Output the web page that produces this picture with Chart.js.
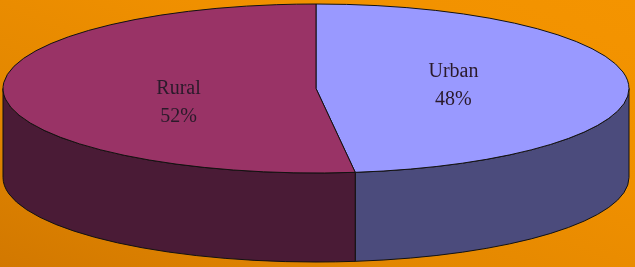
<!DOCTYPE html>
<html>
<head>
<meta charset="utf-8">
<script src="https://cdn.jsdelivr.net/npm/chart.js@4.4.1/dist/chart.umd.min.js"></script>
<style>
  html, body { margin: 0; padding: 0; }
  #wrap {
    width: 635px; height: 267px; position: relative;
    background: linear-gradient(to top right, #d27800 0%, #e48800 35%, #f09000 65%, #f49400 100%);
  }
</style>
</head>
<body>
<div id="wrap"><canvas id="graph"></canvas></div>
<script>
const labels = ['Urban', 'Rural'];
const values = [48, 52];
const topColors = ['#9999ff', '#993366'];
const sideColors = ['#4b4b7c', '#4a1b36'];

// 3D pie: draws the arcs chart.js laid out as an ellipse with a wall
const pie3d = {
    id: 'pie3d',
    beforeDatasetsDraw(chart, args, opts) {
        const ctx = chart.ctx;
        const a = chart.chartArea;
        const meta = chart.getDatasetMeta(0);
        const ds = chart.data.datasets[0];
        const total = ds.data.reduce((s, v) => s + v, 0);
        const depth = opts.depth;
        const cx = (a.left + a.right) / 2;
        const rx = (a.right - a.left) / 2;
        const ry = (a.bottom - a.top - depth) / 2;
        const cy = a.top + ry;

        ctx.save();
        ctx.lineWidth = 1;
        ctx.strokeStyle = '#111';
        ctx.lineJoin = 'round';

        // walls (only the front half is visible)
        meta.data.forEach((arc, i) => {
            const s = Math.max(arc.startAngle, 0);
            const e = Math.min(arc.endAngle, Math.PI);
            if (e <= s) return;
            ctx.beginPath();
            ctx.ellipse(cx, cy, rx, ry, 0, s, e);
            ctx.ellipse(cx, cy + depth, rx, ry, 0, e, s, true);
            ctx.closePath();
            ctx.fillStyle = opts.sideColors[i];
            ctx.fill();
            ctx.stroke();
        });

        // tops
        meta.data.forEach((arc, i) => {
            ctx.beginPath();
            ctx.moveTo(cx, cy);
            ctx.ellipse(cx, cy, rx, ry, 0, arc.startAngle, arc.endAngle);
            ctx.closePath();
            ctx.fillStyle = ds.backgroundColor[i];
            ctx.fill();
            ctx.stroke();
        });

        // labels
        ctx.fillStyle = '#2a1a2a';
        ctx.font = '20px "Liberation Serif"';
        ctx.textAlign = 'center';
        ctx.textBaseline = 'middle';
        meta.data.forEach((arc, i) => {
            const mid = (arc.startAngle + arc.endAngle) / 2;
            const x = cx + rx * opts.labelRadius * Math.cos(mid);
            const y = cy + ry * opts.labelRadius * Math.sin(mid) + opts.labelDy[i];
            const pct = Math.round(ds.data[i] / total * 100) + '%';
            ctx.fillText(chart.data.labels[i], x, y - 14);
            ctx.fillText(pct, x, y + 14);
        });
        ctx.restore();
        return false;
    }
};

new Chart(document.getElementById('graph'), {
    type: 'pie',
    data: {
        labels: labels,
        datasets: [{
            data: values,
            backgroundColor: topColors,
            borderColor: '#111',
            borderWidth: 1
        }]
    },
    options: {
        responsive: true,
        maintainAspectRatio: false,
        animation: false,
        layout: { padding: { left: 3, top: 4, right: 6, bottom: 5 } },
        plugins: {
            legend: { display: false },
            tooltip: { enabled: false },
            pie3d: { depth: 89, sideColors: sideColors, labelRadius: 0.44, labelDy: [0, 12] }
        }
    },
    plugins: [pie3d]
});
</script>
</body>
</html>
